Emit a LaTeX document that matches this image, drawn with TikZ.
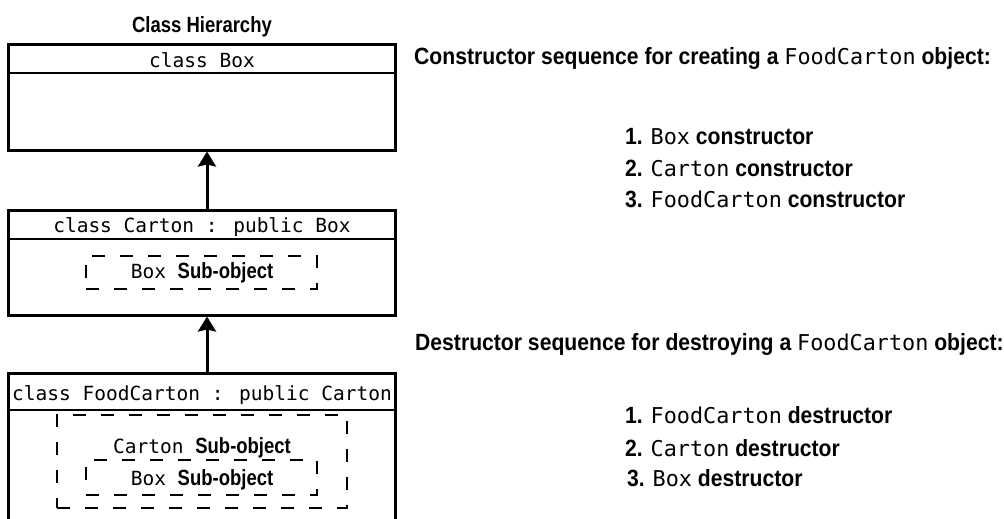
\documentclass[tikz,border=0pt]{standalone}
\usepackage{fontspec}
\usetikzlibrary{arrows.meta}
\newfontfamily\labfont{Liberation Sans}[FakeStretch=0.84]
\newfontfamily\rlabfont{Liberation Sans}[FakeStretch=0.9]
\newfontfamily\codefont{DejaVu Sans Mono}
\newcommand{\lab}{\labfont\bfseries\fontsize{22}{26}\selectfont}
\newcommand{\rlab}{\rlabfont\bfseries\fontsize{23.5}{28}\selectfont}
\newcommand{\cd}[1]{{\codefont\mdseries\fontsize{21.8}{26}\selectfont #1}}
\newcommand{\bcd}{\codefont\fontsize{19.5}{24}\selectfont}
\begin{document}
\begin{tikzpicture}[x=1pt,y=-1pt,
  cls/.style={draw, line width=3pt, minimum width=387pt, inner sep=0pt},
  sub/.style={draw, line width=2.8pt, dash pattern=on 13pt off 15pt, inner sep=0pt},
  txt/.style={anchor=base west, inner sep=0pt, font=\rlab},
  ctr/.style={anchor=base, inner sep=0pt},
  arr/.style={line width=3pt, -{Stealth[length=15pt,width=18pt,inset=2pt]}}]
\useasboundingbox (0,0) rectangle (1004,519);
\clip (0,0) rectangle (1004,519);
\fill[white] (0,0) rectangle (1004,519);
% title
\node[ctr, font=\lab] (title) at (202,33) {Class Hierarchy};
% box 1
\node[cls, minimum height=105pt] (b1) at (201.5,97.5) {};
\draw[line width=2.5pt] (b1.west |- 0,73) -- (b1.east |- 0,73);
\node[ctr, font=\bcd] (h1) at (202,68) {class Box};
% box 2
\node[cls, minimum height=105pt] (b2) at (201.5,262.5) {};
\draw[line width=2.5pt] (b2.west |- 0,239) -- (b2.east |- 0,239);
\node[ctr, font=\bcd] (h2) at (202,232) {class Carton : public Box};
\node[sub, minimum width=231pt, minimum height=33pt] (s2) at (201.5,272.5) {};
\node[ctr] (t2) at (202,278) {\bcd Box \lab Sub-object};
% box 3
\node[cls, minimum height=160pt] (b3) at (201.5,453) {};
\draw[line width=2.5pt] (b3.west |- 0,410) -- (b3.east |- 0,410);
\node[ctr, font=\bcd] (h3) at (202,400) {class FoodCarton : public Carton};
\node[sub, minimum width=290pt, minimum height=93pt] (s3o) at (202,461.5) {};
\node[sub, minimum width=231pt, minimum height=35pt] (s3i) at (201.5,477.5) {};
\node[ctr] (t3o) at (202,453) {\bcd Carton \lab Sub-object};
\node[ctr] (t3i) at (202,485) {\bcd Box \lab Sub-object};
% arrows
\draw[arr] ([xshift=5.5pt]b2.north) -- ([xshift=5.5pt]b1.south);
\draw[arr] ([xshift=5.5pt]b3.north) -- ([xshift=5.5pt]b2.south);
% right text
\node[txt] (ch) at (414,65) {Constructor sequence for creating a \cd{FoodCarton} object:};
\node[txt] (c1) at (625,144) {1. \cd{Box} constructor};
\node[txt] (c2) at (625,176) {2. \cd{Carton} constructor};
\node[txt] (c3) at (625,207) {3. \cd{FoodCarton} constructor};
\node[txt] (dh) at (415,350) {Destructor sequence for destroying a \cd{FoodCarton} object:};
\node[txt] (d1) at (625,423) {1. \cd{FoodCarton} destructor};
\node[txt] (d2) at (625,456) {2. \cd{Carton} destructor};
\node[txt] (d3) at (627,486) {3. \cd{Box} destructor};
\end{tikzpicture}
\end{document}
